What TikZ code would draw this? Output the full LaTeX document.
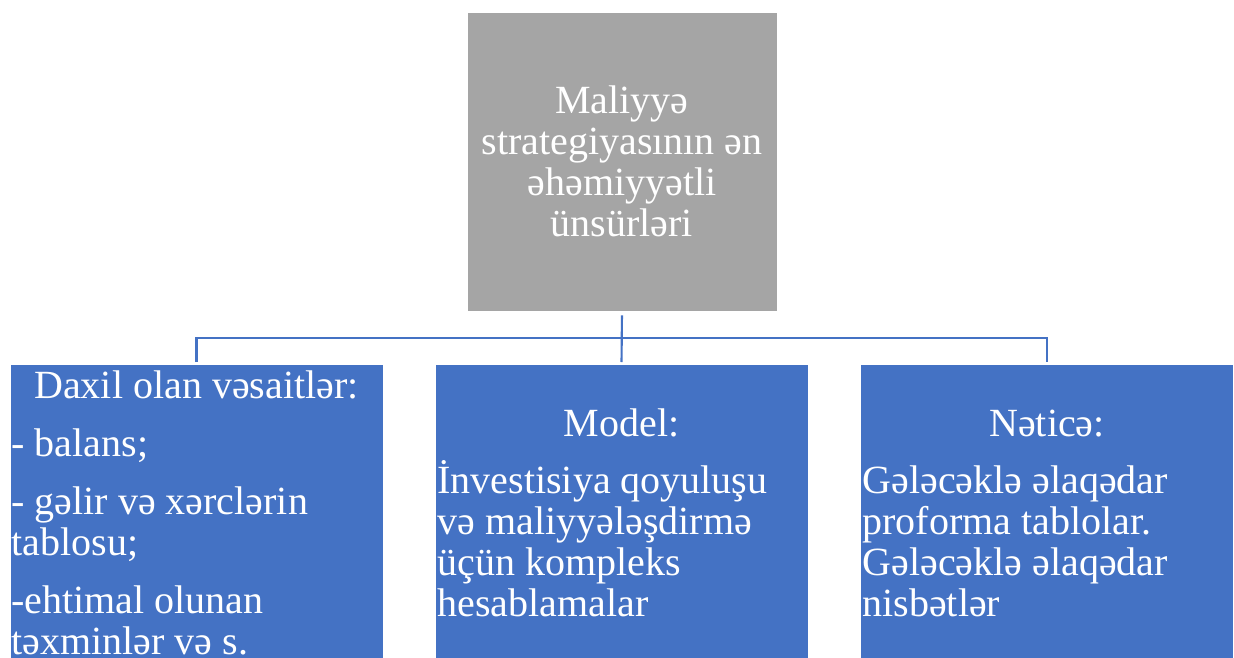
\documentclass[tikz,border=0pt]{standalone}
\usepackage{fontspec}
\setmainfont{Liberation Serif}
\definecolor{boxgray}{RGB}{165,165,165}
\definecolor{boxblue}{RGB}{68,114,196}
\tikzset{every picture/.style={line width=0.75pt}}
\tikzset{
  headbox/.style={fill=boxgray, draw=white, line width=0.6pt, minimum width=232.5pt, minimum height=224.25pt, inner sep=0pt, text=white, align=center},
  partbox/.style={fill=boxblue, draw=white, line width=0.6pt, minimum width=279.75pt, minimum height=300pt, anchor=north, inner sep=0pt},
  conn/.style={draw=boxblue, line width=1.6pt},
  txt/.style={text=white, inner sep=0pt, font=\fontsize{30}{30.75}\selectfont}
}

\begin{document}
\begin{tikzpicture}[x=0.75pt,y=0.75pt,yscale=-1,xscale=1]
    \useasboundingbox (0,0) rectangle (1234,657);
    \clip (0,0) rectangle (1234,657);

    %Shape: Rectangle [id:top]
    \node (top) [headbox, txt] at (622,161.5) {Maliyyə\\ strategiyasının ən\\ əhəmiyyətli\\ ünsürləri};
    %Shape: Rectangle [id:left]
    \node (boxL) [partbox] at (196.5,364) {};
    %Shape: Rectangle [id:middle]
    \node (boxM) [partbox] at (621.5,364) {};
    %Shape: Rectangle [id:right]
    \node (boxR) [partbox] at (1047,364) {};

    %Straight Lines
    \coordinate (bus) at (622,338);
    \draw [conn, shorten <=3pt, shorten >=1.5pt] (top.south) -- (boxM.north);
    \draw [conn, shorten <=1.5pt, shorten >=1.5pt] (boxL.north) -- (boxL.north |- bus) -- (boxR.north |- bus) -- (boxR.north);

    % Text Node
    \node (headL) [txt, anchor=base] at (196.5,398) {Daxil olan vəsaitlər:};
    \node (bodyL) [txt, anchor=base west, align=left] at (11,654) {- balans;\\[12.75pt] - gəlir və xərclərin\\ tablosu;\\[12.75pt] -ehtimal olunan\\ təxminlər və s.};
    % Text Node
    \node (headM) [txt, anchor=base] at (621.5,436) {Model:};
    \node (bodyM) [txt, anchor=base west, align=left] at (437,616) {İnvestisiya qoyuluşu\\ və maliyyələşdirmə\\ üçün kompleks\\ hesablamalar};
    % Text Node
    \node (headR) [txt, anchor=base] at (1047,436) {Nəticə:};
    \node (bodyR) [txt, anchor=base west, align=left] at (862,616) {Gələcəklə əlaqədar\\ proforma tablolar.\\ Gələcəklə əlaqədar\\ nisbətlər};

\end{tikzpicture}
\end{document}
